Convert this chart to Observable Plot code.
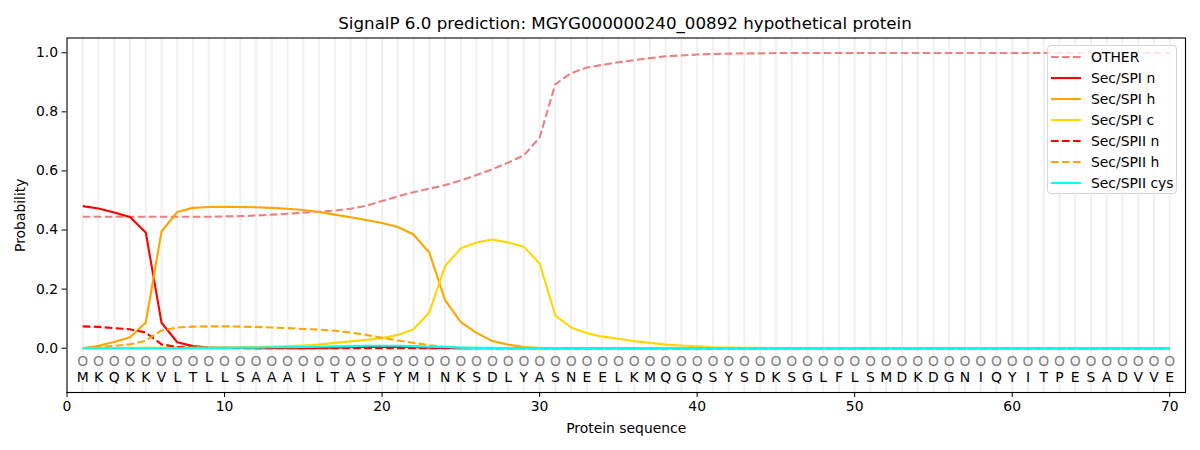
<!DOCTYPE html>
<html>
<head>
<meta charset="utf-8">
<script src="https://cdn.jsdelivr.net/npm/d3@7"></script>
<script src="https://cdn.jsdelivr.net/npm/@observablehq/plot@0.6"></script>
<style>
  html, body { margin: 0; padding: 0; background: #fff; }
  body { width: 1200px; height: 450px; position: relative; font-family: "DejaVu Sans", sans-serif; overflow: hidden; }
  #title { height: 30px; box-sizing: border-box; padding-top: 14px; line-height: 18px; text-align: center; font-size: 16.7px; color: #000; }
  #title span { position: relative; left: 25px; }
  #legend { position: absolute; left: 1047px; top: 45px; width: 130px; height: 149px; box-sizing: border-box;
    border: 1px solid #d6d6d6; border-radius: 4px; background: rgba(255,255,255,0.8); padding-top: 0px; }
  .row { height: 21px; display: flex; align-items: center; font-size: 13.9px; color: #000; }
  .row svg { margin-left: 3px; margin-right: 10px; }
</style>
</head>
<body>
<div id="title"><span></span></div>
<div id="chart"></div>
<div id="legend"></div>
<script>
const titleText = "SignalP 6.0 prediction: MGYG000000240_00892 hypothetical protein";
const residues = "MKQKKVLTLLSAAAILTASFYMINKSDLYASNEELKMQGQSYSDKSGLFLSMDKDGNIQYITPESADVVE".split("");
const positions = residues.map((d, i) => i + 1);

const other = [0.445,0.445,0.445,0.445,0.445,0.445,0.445,0.445,0.445,0.446,
  0.447,0.449,0.452,0.455,0.459,0.462,0.466,0.472,0.482,0.498,
  0.514,0.528,0.540,0.552,0.568,0.586,0.606,0.628,0.653,0.713,
  0.894,0.931,0.950,0.959,0.968,0.975,0.982,0.988,0.991,0.994,
  0.996,0.997,0.998,0.998,0.999,0.999,0.999,0.999,0.999,0.999,
  0.999,0.999,0.999,0.999,0.999,0.999,0.999,0.999,0.999,0.999,
  0.999,0.999,0.999,0.999,0.999,0.999,0.999,0.999,0.999,0.999];
const spiN = [0.481,0.473,0.459,0.444,0.392,0.086,0.020,0.007,0.002,0.001,
  0.001,0,0,0,0,0.001,0.002,0.003,0.004,0.004,
  0.004,0.003,0.002,0.001,0,0,0,0,0,0,
  0,0,0,0,0,0,0,0,0,0, 0,0,0,0,0,0,0,0,0,0,
  0,0,0,0,0,0,0,0,0,0, 0,0,0,0,0,0,0,0,0,0];
const spiH = [0,0.008,0.021,0.037,0.087,0.395,0.461,0.475,0.478,0.479,
  0.478,0.477,0.475,0.472,0.468,0.461,0.452,0.443,0.434,0.424,
  0.410,0.385,0.323,0.163,0.088,0.052,0.024,0.012,0.004,0.001,
  0,0,0,0,0,0,0,0,0,0, 0,0,0,0,0,0,0,0,0,0,
  0,0,0,0,0,0,0,0,0,0, 0,0,0,0,0,0,0,0,0,0];
const spiC = [0,0,0,0.001,0.001,0.001,0.002,0.002,0.002,0.002,
  0.003,0.004,0.005,0.007,0.009,0.012,0.018,0.023,0.028,0.034,
  0.045,0.064,0.121,0.278,0.338,0.358,0.368,0.358,0.343,0.287,
  0.110,0.070,0.051,0.039,0.032,0.024,0.018,0.012,0.009,0.006,
  0.003,0.002,0.001,0.001,0,0,0,0,0,0,
  0,0,0,0,0,0,0,0,0,0, 0,0,0,0,0,0,0,0,0,0];
const spiiN = [0.074,0.072,0.068,0.064,0.053,0.013,0.004,0.002,0.001,0,
  0,0,0,0,0,0,0,0,0,0, 0,0,0,0,0,0,0,0,0,0,
  0,0,0,0,0,0,0,0,0,0, 0,0,0,0,0,0,0,0,0,0,
  0,0,0,0,0,0,0,0,0,0, 0,0,0,0,0,0,0,0,0,0];
const spiiH = [0,0.003,0.008,0.013,0.025,0.060,0.070,0.073,0.074,0.074,
  0.073,0.072,0.070,0.068,0.065,0.063,0.059,0.053,0.045,0.035,
  0.026,0.018,0.010,0.005,0.002,0.001,0,0,0,0,
  0,0,0,0,0,0,0,0,0,0, 0,0,0,0,0,0,0,0,0,0,
  0,0,0,0,0,0,0,0,0,0, 0,0,0,0,0,0,0,0,0,0];
const spiiCys = [0,0,0,0,0,0,0,0.001,0.001,0.001,
  0.002,0.002,0.003,0.003,0.004,0.005,0.006,0.007,0.008,0.008,
  0.008,0.007,0.005,0.004,0.002,0.001,0.001,0,0,0,
  0,0,0,0,0,0,0,0,0,0, 0,0,0,0,0,0,0,0,0,0,
  0,0,0,0,0,0,0,0,0,0, 0,0,0,0,0,0,0,0,0,0];

const seriesNames = ["OTHER","Sec/SPI n","Sec/SPI h","Sec/SPI c","Sec/SPII n","Sec/SPII h","Sec/SPII cys"];
const seriesValues = [other, spiN, spiH, spiC, spiiN, spiiH, spiiCys];
const seriesColors = ["#f08080","#ff0000","#ffa500","#ffd700","#ff0000","#ffa500","#00ffff"];
const seriesDashed = [true,false,false,false,true,true,false];
const xTicks = [0,10,20,30,40,50,60,70];
const yTicks = [0,0.2,0.4,0.6,0.8,1.0];
const circleY = -0.045, letterY = -0.1;

document.querySelector("#title span").textContent = titleText;

const lineMarks = seriesNames.map((name, k) => Plot.line(
  positions.map((p, i) => ({x: p, y: seriesValues[k][i]})),
  {x: "x", y: "y", stroke: seriesColors[k], strokeWidth: 2.1,
   strokeDasharray: seriesDashed[k] ? "7.7,3.3" : null, strokeLinejoin: "round", strokeLinecap: "butt"}
));

const chart = Plot.plot({
  width: 1200, height: 420,
  marginTop: 7.5, marginBottom: 58, marginLeft: 66.5, marginRight: 15,
  style: {fontFamily: "DejaVu Sans, sans-serif", fontSize: "13.9px", color: "#000", background: "#fff"},
  x: {domain: [0, 71]},
  y: {domain: [-0.15, 1.05]},
  marks: [
    Plot.ruleX(positions, {x: d => d, stroke: "#ebebeb", strokeWidth: 2, strokeOpacity: 0.75}),
    ...lineMarks,
    Plot.text(residues, {x: (d, i) => i + 1, y: circleY, text: () => "O", fill: "#808080", fontSize: 13.9}),
    Plot.text(residues, {x: (d, i) => i + 1, y: letterY, text: d => d, fill: "#000", fontSize: 13.9}),
    Plot.frame({stroke: "#000", strokeWidth: 1.1}),
    Plot.axisX({ticks: xTicks, tickSize: 5, tickPadding: 4, tickFormat: d => String(d),
      label: "Protein sequence", labelAnchor: "center", labelArrow: "none", labelOffset: 40, fontSize: 13.9}),
    Plot.axisY({ticks: yTicks, tickSize: 5, tickPadding: 4, tickFormat: d3.format(".1f"),
      label: "Probability", labelAnchor: "center", labelArrow: "none", labelOffset: 52, fontSize: 13.9})
  ]
});
document.getElementById("chart").appendChild(chart);

const legend = document.getElementById("legend");
seriesNames.forEach((name, k) => {
  const row = document.createElement("div");
  row.className = "row";
  row.innerHTML = `<svg width="30" height="6"><line x1="0" y1="3" x2="30" y2="3" stroke="${seriesColors[k]}" stroke-width="2.1" ${seriesDashed[k] ? 'stroke-dasharray="7.7,3.3"' : ''}/></svg><span></span>`;
  row.querySelector("span").textContent = name;
  legend.appendChild(row);
});
</script>
</body>
</html>
